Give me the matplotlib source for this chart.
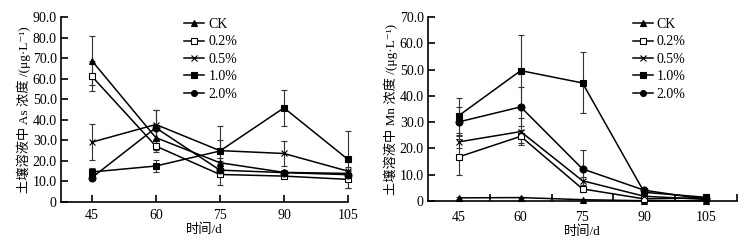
import numpy as np
import matplotlib
matplotlib.use("Agg")
import matplotlib.pyplot as plt
from matplotlib.ticker import FuncFormatter

plt.rcParams['font.family'] = ['Liberation Serif', 'Noto Sans CJK SC', 'DejaVu Sans']
plt.rcParams['axes.unicode_minus'] = False

# ==================== DATA ====================

days = [45, 60, 75, 90, 105]
labels = ['CK', '0.2%', '0.5%', '1.0%', '2.0%']

# As concentration (ug/L)
as_ck = [68.8, 31.3, 19.1, 14.4, 13.9]
as_02 = [61.2, 27.2, 13.4, 12.6, 11.0]
as_05 = [29.1, 37.7, 25.0, 23.6, 15.0]
as_10 = [14.6, 17.5, 24.8, 45.8, 20.7]
as_20 = [11.8, 36.1, 15.5, 14.3, 13.3]

as_ck_err = [11.8, 6.0, 2.5, 1.0, 1.0]
as_02_err = [7.3, 3.0, 5.3, 1.0, 4.4]
as_05_err = [8.8, 7.0, 5.0, 6.3, 2.0]
as_10_err = [2.0, 3.0, 12.0, 8.6, 14.0]
as_20_err = [1.0, 8.5, 2.0, 1.0, 1.0]

# Mn concentration (ug/L)
mn_ck = [1.2, 1.3, 0.5, 0.1, 0.1]
mn_02 = [16.8, 24.6, 4.6, 0.8, 1.2]
mn_05 = [22.5, 26.4, 7.7, 1.8, 0.6]
mn_10 = [32.5, 49.6, 44.9, 3.3, 1.4]
mn_20 = [30.1, 35.8, 12.2, 4.1, 0.6]

mn_ck_err = [0.3, 0.3, 0.2, 0.1, 0.1]
mn_02_err = [6.8, 2.5, 1.0, 0.3, 0.3]
mn_05_err = [2.5, 5.0, 1.5, 0.3, 0.3]
mn_10_err = [6.8, 13.7, 11.6, 0.5, 0.3]
mn_20_err = [5.5, 7.4, 7.2, 0.5, 0.2]

# ==================== STYLE ====================

markers = ['^', 's', 'x', 's', 'o']
faces = ['black', 'white', 'black', 'black', 'black']
sizes = [5, 5, 5, 4.5, 5]

def fmt_y(v, pos):
    return '0' if v == 0 else '%.1f' % v

def draw(ax, series, errs):
    for i in range(len(series)):
        # error bars first, then the line with markers (used for legend)
        ax.errorbar(days, series[i], yerr=errs[i], fmt='none',
                    ecolor='#333333', elinewidth=0.8, capsize=2,
                    capthick=0.8, clip_on=False, zorder=2)
        ax.plot(days, series[i], color='black', lw=1.1,
                marker=markers[i], ms=sizes[i], mfc=faces[i], mec='black',
                mew=0.8, label=labels[i], clip_on=False, zorder=3)
    ax.spines['top'].set_visible(False)
    ax.spines['right'].set_visible(False)
    ax.spines['left'].set_linewidth(1.2)
    ax.spines['bottom'].set_linewidth(1.2)
    ax.yaxis.set_major_formatter(FuncFormatter(fmt_y))
    ax.tick_params(axis='both', labelsize=10, width=1.2)
    ax.tick_params(axis='y', direction='in', length=5, pad=3)
    ax.set_xlabel('时间/d', fontsize=9.5, labelpad=1)
    ax.legend(frameon=False, fontsize=10, handlelength=1.45, handletextpad=0.3,
              labelspacing=0.32, borderaxespad=0.2, markerscale=0.85,
              loc='upper left')

# ==================== PLOT ====================

fig = plt.figure(figsize=(7.45, 2.42), dpi=100)

ax1 = fig.add_axes([61/745, 40/242, 287/745, 185/242])
draw(ax1, [as_ck, as_02, as_05, as_10, as_20],
     [as_ck_err, as_02_err, as_05_err, as_10_err, as_20_err])
ax1.set_xlim(37.8, 105)
ax1.set_ylim(0, 90)
ax1.set_yticks(np.arange(0, 91, 10))
ax1.set_xticks(days)
ax1.tick_params(axis='x', direction='in', length=5, pad=5)
ax1.set_ylabel('土壤溶液中 As 浓度 /(μg·L⁻¹)', fontsize=9.5, labelpad=1)
ax1.legend_.set_bbox_to_anchor((0.40, 1.04))

ax2 = fig.add_axes([428/745, 41/242, 309/745, 184/242])
draw(ax2, [mn_ck, mn_02, mn_05, mn_10, mn_20],
     [mn_ck_err, mn_02_err, mn_05_err, mn_10_err, mn_20_err])
ax2.set_xlim(37.5, 112.5)
ax2.set_ylim(0, 70)
ax2.set_yticks(np.arange(0, 71, 10))
ax2.set_xticks(days)
ax2.tick_params(axis='x', length=0, pad=7)
ax2.set_xticks([52.5, 67.5, 82.5, 97.5, 112.5], minor=True)
ax2.tick_params(axis='x', which='minor', direction='in', length=5, width=1.2)
ax2.set_ylabel('土壤溶液中 Mn 浓度 /(μg·L⁻¹)', fontsize=9.5, labelpad=1)
ax2.legend_.set_bbox_to_anchor((0.635, 1.04))

fig.savefig('out.png', dpi=100)
